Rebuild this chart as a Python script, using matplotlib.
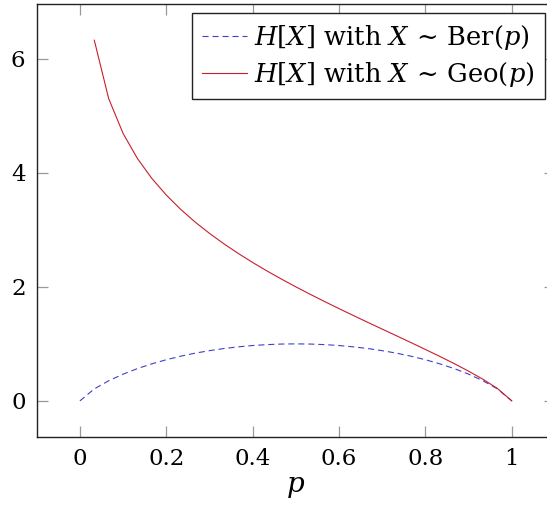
import numpy as np
import matplotlib
matplotlib.use('Agg')
import matplotlib.pyplot as plt

plt.rcParams['font.family'] = ['DejaVu Serif']
plt.rcParams['mathtext.fontset'] = 'dejavuserif'

# p sampled at k/30, k = 0..30
p = [k / 30 for k in range(31)]

# binary entropy of Ber(p), in bits
h_ber = [0.000, 0.211, 0.353, 0.469, 0.567, 0.650, 0.722, 0.784, 0.837, 0.881,
         0.918, 0.948, 0.971, 0.987, 0.997, 1.000, 0.997, 0.987, 0.971, 0.948,
         0.918, 0.881, 0.837, 0.784, 0.722, 0.650, 0.567, 0.469, 0.353, 0.211,
         0.000]

# entropy of Geo(p); undefined at p = 0, so that sample is left out
p_geo = p[1:]
h_geo = [6.325, 5.300, 4.690, 4.249, 3.900, 3.610, 3.359, 3.137, 2.938, 2.755,
         2.586, 2.427, 2.278, 2.136, 2.000, 1.869, 1.742, 1.618, 1.497, 1.377,
         1.259, 1.141, 1.022, 0.902, 0.780, 0.654, 0.521, 0.379, 0.218, 0.000]

xticks = [0, 0.2, 0.4, 0.6, 0.8, 1]
xticklabels = ['0', '0.2', '0.4', '0.6', '0.8', '1']
yticks = [0, 2, 4, 6]
yticklabels = ['0', '2', '4', '6']

fig = plt.figure(figsize=(5.47, 5.11), dpi=100)
ax = fig.add_axes([0.0671, 0.1448, 0.9475, 0.8474])

ax.plot(p, h_ber, color='#4040c8', lw=0.8, ls=(0, (5.5, 3.5)),
        label=r'$H[X]$ with $X \,\sim\, \mathrm{Ber}(p)$')
ax.plot(p_geo, h_geo, color='#c81e2e', lw=0.8,
        label=r'$H[X]$ with $X \,\sim\, \mathrm{Geo}(p)$')

ax.set_xlim(-0.1, 1.1)
ax.set_ylim(-0.633, 6.96)
ax.set_xticks(xticks)
ax.set_xticklabels(xticklabels)
ax.set_yticks(yticks)
ax.set_yticklabels(yticklabels)
ax.tick_params(direction='in', length=8, width=0.9, color='#999999',
               top=True, right=True, labelsize=16.5, pad=8)
for s in ax.spines.values():
    s.set_color('#222222')
    s.set_linewidth(1.0)

ax.set_xlabel(r'$p$', fontsize=20, labelpad=2)

leg = ax.legend(loc='upper right', bbox_to_anchor=(0.98, 0.98), fontsize=18.5,
                fancybox=False, framealpha=1, edgecolor='#222222',
                handlelength=1.75, handletextpad=0.25, borderpad=0.4,
                labelspacing=0.3, borderaxespad=0)
leg.get_frame().set_linewidth(1.0)

fig.savefig('out.png', dpi=100)
